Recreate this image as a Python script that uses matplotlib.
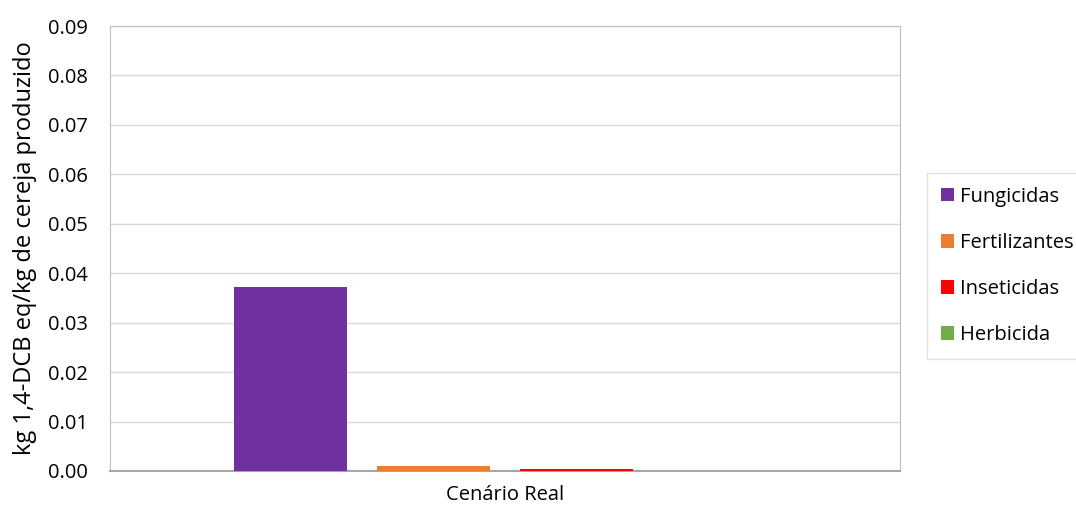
import matplotlib.pyplot as plt
import numpy as np

plt.rcParams['font.family'] = ['Open Sans', 'DejaVu Sans']

category = "Cenário Real"
series = ["Fungicidas", "Fertilizantes", "Inseticidas", "Herbicida"]
values = [0.0373, 0.0011, 0.0005, 0.00002]
colors = ["#7030A0", "#ED7D31", "#FF0000", "#70AD47"]
yticks = [0.00, 0.01, 0.02, 0.03, 0.04, 0.05, 0.06, 0.07, 0.08, 0.09]

fig = plt.figure(figsize=(10.76, 5.12), dpi=100)
ax = fig.add_axes([110 / 1076, 41 / 512, 790 / 1076, 445 / 512])

offsets = np.arange(len(series)) - (len(series) - 1) / 2
for off, val, col, name in zip(offsets, values, colors, series):
    ax.bar(off, val, width=113 / 143, color=col, label=name, zorder=3)

ax.set_xlim(-2.76, 2.76)
ax.set_ylim(0, 0.09)
ax.set_yticks(yticks)
ax.set_yticklabels([f"{t:.2f}" for t in yticks], fontsize=14.5)
ax.set_xticks([0])
ax.set_xticklabels([category], fontsize=14.5)
ax.tick_params(axis='y', length=0, pad=16)
ax.tick_params(axis='x', length=0, pad=10)
ax.grid(axis='y', color='#d9d9d9', linewidth=1, zorder=0)
for side in ['left', 'top', 'right']:
    ax.spines[side].set_color('#bfbfbf')
ax.spines['bottom'].set_color('#a6a6a6')
ax.spines['bottom'].set_linewidth(1.5)
ax.set_ylabel("kg 1,4-DCB eq/kg de cereja produzido", fontsize=17, labelpad=8)

leg = fig.legend(loc='center left', bbox_to_anchor=(927 / 1076, 246 / 512),
                 fontsize=14.5, frameon=True, fancybox=False, edgecolor='#d9d9d9',
                 handlelength=0.65, handleheight=0.65, handletextpad=0.3,
                 labelspacing=1.3, borderpad=0.7, borderaxespad=0)

fig.savefig("out.png", dpi=100)
